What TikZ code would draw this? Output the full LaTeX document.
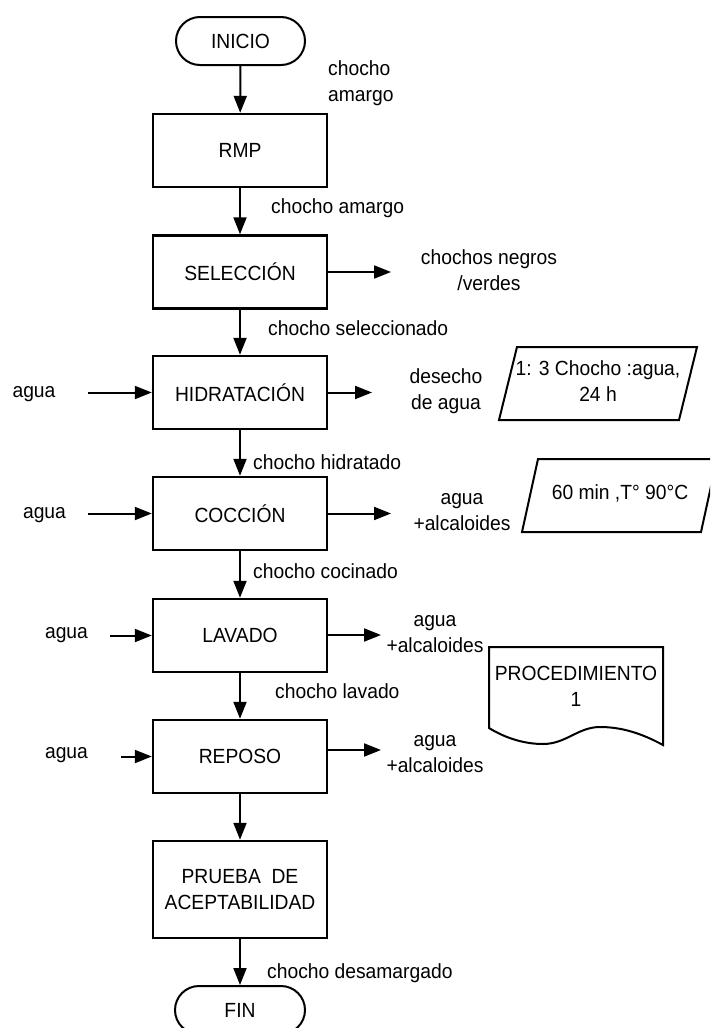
\documentclass[tikz,border=0pt]{standalone}
\usepackage{fontspec}
\setmainfont[FakeStretch=0.94]{Liberation Sans}
\usetikzlibrary{arrows.meta}
\begin{document}
\begin{tikzpicture}[x=1pt,y=-1pt,
  font=\fontsize{20.5}{26}\selectfont,
  stepbox/.style={draw, line width=2.4pt, minimum width=174pt, minimum height=73pt, inner sep=0pt, align=center},
  terminal/.style={draw, line width=2pt, rounded corners=24pt, minimum width=129pt, minimum height=48pt, inner sep=0pt},
  note/.style={inner sep=0pt, align=center},
  oneline/.style={inner sep=0pt, text height=15pt, text depth=4pt},
  flow/.style={line width=2pt, -{Triangle[length=17pt,width=13pt]}},
  datashape/.style={line width=2pt, line join=miter},
]
\fill[white] (0,0) rectangle (710,1028);
\useasboundingbox (0,0) rectangle (710,1028);
\clip (0,0) rectangle (710,1028);

% main column
\node[terminal] (ini) at (240.5,41) {INICIO};
\node[stepbox] (rmp) at (240,150.5) {RMP};
\node[stepbox] (sel) at (240,272) {SELECCIÓN};
\node[stepbox] (hid) at (240,392.5) {HIDRATACIÓN};
\node[stepbox] (coc) at (240,513.5) {COCCIÓN};
\node[stepbox] (lav) at (240,635.5) {LAVADO};
\node[stepbox] (rep) at (240,756.5) {REPOSO};
\node[stepbox, minimum height=97pt] (pru) at (240,889.5) {PRUEBA\ \ DE\\ACEPTABILIDAD};
\node[terminal, minimum width=130pt] (fin) at (240,1010) {FIN};

\draw[flow] (ini) -- (rmp);
\draw[flow] (rmp) -- (sel);
\draw[flow] (sel) -- (hid);
\draw[flow] (hid) -- (coc);
\draw[flow] (coc) -- (lav);
\draw[flow] (lav) -- (rep);
\draw[flow] (rep) -- (pru);
\draw[flow] (pru) -- (fin);

% labels on the main flow
\node[note, align=left, anchor=west] (t0) at (328,83) {chocho\\amargo};
\node[oneline, anchor=west] (t1) at (271,208) {chocho amargo};
\node[oneline, anchor=west] (t2) at (268,330) {chocho seleccionado};
\node[oneline, anchor=west] (t3) at (253,464) {chocho hidratado};
\node[oneline, anchor=west] (t4) at (253,573) {chocho cocinado};
\node[oneline, anchor=west] (t5) at (275,693) {chocho lavado};
\node[oneline, anchor=west] (t6) at (267,973) {chocho desamargado};

% water inputs
\node[oneline] (wh) at (34,392) {agua};
\node[oneline] (wc) at (44.5,513) {agua};
\node[oneline] (wl) at (66.5,633) {agua};
\node[oneline] (wr) at (66.5,753) {agua};
\coordinate (hin) at (88,392.5);
\coordinate (cin) at (88,513.5);
\coordinate (lin) at (110,635.5);
\coordinate (rin) at (121,756.5);
\draw[flow] (hin) -- (hid);
\draw[flow] (cin) -- (coc);
\draw[flow] (lin) -- (lav);
\draw[flow] (rin) -- (rep);

% outputs
\coordinate (sout) at (391,272);
\coordinate (hout) at (372,392.5);
\coordinate (cout) at (391,513.5);
\coordinate (lout) at (381,635);
\coordinate (rout) at (381,750);
\draw[flow] (sel.east |- sout) -- (sout);
\draw[flow] (hid.east |- hout) -- (hout);
\draw[flow] (coc.east |- cout) -- (cout);
\draw[flow] (lav.east |- lout) -- (lout);
\draw[flow] (rep.east |- rout) -- (rout);

\node[note] (os) at (489,270) {chochos negros\\/verdes};
\node[note] (oh) at (446,391) {desecho\\de agua};
\node[note] (oc) at (462,512) {agua\\+alcaloides};
\node[note] (ol) at (435,634) {agua\\+alcaloides};
\node[note] (or) at (435,754) {agua\\+alcaloides};

% data (parallelogram) shapes
\draw[datashape] (517,347) -- (697,347) -- (679,420) -- (499,420) -- cycle;
\node[note] (dh) at (598,381) {1: 3 Chocho :agua,\\24 h};
\draw[datashape] (538,459) -- (717,459) -- (701,532) -- (522,532) -- cycle;
\node[oneline] (dc) at (620,494) {60 min ,T° 90°C};

% document shape
\draw[datashape] (489,647) -- (663,647) -- (663,745)
  .. controls (641,733) and (621,727) .. (600,727)
  .. controls (578,727) and (566,744) .. (543,744)
  .. controls (521,744) and (502,736) .. (489,728) -- cycle;
\node[note] (doc) at (576,686) {PROCEDIMIENTO\\1};
\end{tikzpicture}
\end{document}
